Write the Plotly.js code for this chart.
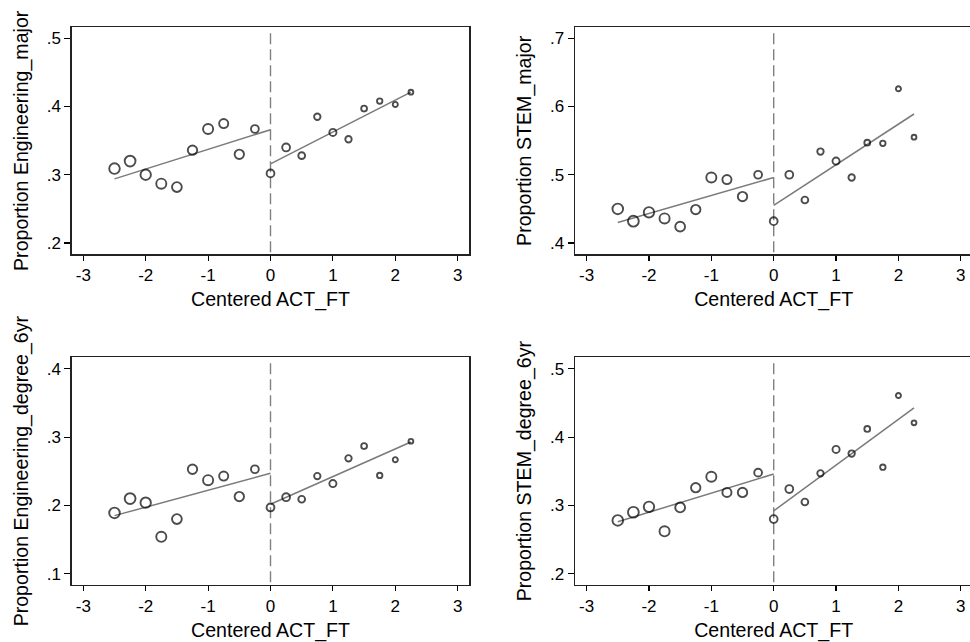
<!DOCTYPE html>
<html>
<head>
<meta charset="utf-8">
<script src="https://cdn.plot.ly/plotly-3.0.1.min.js"></script>
<style>
  html, body { margin: 0; padding: 0; background: #fff; overflow: hidden; }
  #chart { width: 980px; height: 642px; }
</style>
</head>
<body>
<div id="chart"></div>
<script>
// Bin midpoints of centered ACT score (shared by all four panels)
const actBins = [-2.5, -2.25, -2, -1.75, -1.5, -1.25, -1, -0.75, -0.5, -0.25,
                 0, 0.25, 0.5, 0.75, 1, 1.25, 1.5, 1.75, 2, 2.25];

// Binned proportions per outcome
const engMajor  = [0.309, 0.320, 0.300, 0.287, 0.282, 0.336, 0.367, 0.375, 0.330, 0.367,
                   0.302, 0.340, 0.328, 0.385, 0.362, 0.352, 0.397, 0.408, 0.403, 0.421];
const stemMajor = [0.450, 0.432, 0.445, 0.436, 0.424, 0.449, 0.496, 0.493, 0.468, 0.500,
                   0.432, 0.500, 0.463, 0.534, 0.520, 0.496, 0.547, 0.546, 0.626, 0.555];
const engDeg6   = [0.189, 0.210, 0.204, 0.154, 0.180, 0.253, 0.237, 0.243, 0.213, 0.253,
                   0.197, 0.212, 0.209, 0.243, 0.232, 0.269, 0.287, 0.244, 0.267, 0.294];
const stemDeg6  = [0.278, 0.290, 0.298, 0.262, 0.297, 0.326, 0.342, 0.319, 0.319, 0.348,
                   0.280, 0.324, 0.305, 0.347, 0.382, 0.376, 0.412, 0.356, 0.461, 0.421];

// Linear fits on each side of the cutoff: [value at left end, value at right end]
const fitLeftX  = [-2.5, 0];
const fitRightX = [0, 2.25];
const engMajorFitL  = [0.294, 0.366], engMajorFitR  = [0.316, 0.421];
const stemMajorFitL = [0.430, 0.496], stemMajorFitR = [0.455, 0.589];
const engDeg6FitL   = [0.185, 0.247], engDeg6FitR   = [0.2017, 0.293];
const stemDeg6FitL  = [0.276, 0.346], stemDeg6FitR  = [0.292, 0.443];

// Axis titles and tick labels
const xTitle = "Centered ACT_FT";
const yTitles = ["Proportion Engineering_major", "Proportion STEM_major",
                 "Proportion Engineering_degree_6yr", "Proportion STEM_degree_6yr"];
const xTickVals = [-3, -2, -1, 0, 1, 2, 3];
const xTickText = ["-3", "-2", "-1", "0", "1", "2", "3"];
const yTickVals = [
  [0.2, 0.3, 0.4, 0.5],
  [0.4, 0.5, 0.6, 0.7],
  [0.1, 0.2, 0.3, 0.4],
  [0.2, 0.3, 0.4, 0.5]
];
const yTickText = [
  [".2", ".3", ".4", ".5"],
  [".4", ".5", ".6", ".7"],
  [".1", ".2", ".3", ".4"],
  [".2", ".3", ".4", ".5"]
];

// ---- styling ----
const W = 980, H = 642;
const FONT = "Liberation Sans, Arial, Helvetica, sans-serif";
// marker diameters shrink with the bin weight
const markerDiam = [10.6, 10.8, 10.4, 10.1, 9.8, 9.4, 10.1, 9.1, 9.4, 7.8,
                    7.8, 7.8, 6.8, 6.4, 7.1, 6.4, 5.8, 5.4, 5.1, 4.8];

const panels = [
  { pts: engMajor,  fl: engMajorFitL,  fr: engMajorFitR,  yr: [0.1835, 0.516] },
  { pts: stemMajor, fl: stemMajorFitL, fr: stemMajorFitR, yr: [0.3835, 0.716] },
  { pts: engDeg6,   fl: engDeg6FitL,   fr: engDeg6FitR,   yr: [0.0834, 0.417] },
  { pts: stemDeg6,  fl: stemDeg6FitL,  fr: stemDeg6FitR,  yr: [0.1834, 0.517] }
];

// plot-area boxes in pixels: [left, right, top, bottom]
const boxes = [
  [71.7, 469.3, 27.3, 254.3],
  [575.0, 972.4, 27.3, 254.3],
  [71.7, 469.3, 357.3, 585.0],
  [575.0, 972.4, 357.3, 585.0]
];

const traces = [];
const layout = {
  width: W, height: H,
  margin: { l: 0, r: 0, t: 0, b: 0 },
  paper_bgcolor: "#fff", plot_bgcolor: "#fff",
  showlegend: false,
  font: { family: FONT, color: "#000" },
  shapes: []
};

panels.forEach((p, i) => {
  const n = i + 1;
  const xa = n === 1 ? "x" : "x" + n;
  const ya = n === 1 ? "y" : "y" + n;
  const b = boxes[i];

  traces.push({
    x: fitLeftX, y: p.fl, xaxis: xa, yaxis: ya, mode: "lines",
    line: { color: "#7a7a7a", width: 1.5 }, hoverinfo: "skip"
  });
  traces.push({
    x: fitRightX, y: p.fr, xaxis: xa, yaxis: ya, mode: "lines",
    line: { color: "#7a7a7a", width: 1.5 }, hoverinfo: "skip"
  });
  traces.push({
    x: actBins, y: p.pts, xaxis: xa, yaxis: ya, mode: "markers",
    marker: { symbol: "circle-open", size: markerDiam, color: "#000",
              line: { color: "#000", width: 1.9 } }
  });

  const axisKeyX = n === 1 ? "xaxis" : "xaxis" + n;
  const axisKeyY = n === 1 ? "yaxis" : "yaxis" + n;
  layout[axisKeyX] = {
    domain: [b[0] / W, b[1] / W],
    range: [-3.186, 3.186],
    anchor: ya,
    tickmode: "array", tickvals: xTickVals, ticktext: xTickText,
    ticks: "outside", ticklen: 5, tickwidth: 1.2, tickcolor: "#000",
    tickfont: { size: 17, family: FONT, color: "#000" },
    showgrid: false, zeroline: false,
    showline: true, linecolor: "#222", linewidth: 1.4, mirror: true,
    title: { text: xTitle, font: { size: 19.6, family: FONT, color: "#000" }, standoff: 8 },
    automargin: false, fixedrange: true
  };
  layout[axisKeyY] = {
    domain: [1 - b[3] / H, 1 - b[2] / H],
    range: p.yr,
    anchor: xa,
    tickmode: "array", tickvals: yTickVals[i], ticktext: yTickText[i],
    ticks: "outside", ticklen: 6, tickwidth: 1.2, tickcolor: "#000",
    tickfont: { size: 17, family: FONT, color: "#000" },
    showgrid: false, zeroline: false,
    showline: true, linecolor: "#222", linewidth: 1.4, mirror: true,
    title: { text: yTitles[i], font: { size: 19.6, family: FONT, color: "#000" }, standoff: 13 },
    automargin: false, fixedrange: true
  };

  // dashed reference line at the cutoff
  layout.shapes.push({
    type: "line", xref: xa, yref: ya + " domain",
    x0: 0, x1: 0, y0: 0.9736, y1: 0,
    line: { color: "#808080", width: 1.4, dash: "11px,5px" },
    layer: "below"
  });
});

Plotly.newPlot("chart", traces, layout, { staticPlot: true, displayModeBar: false });
</script>
</body>
</html>
